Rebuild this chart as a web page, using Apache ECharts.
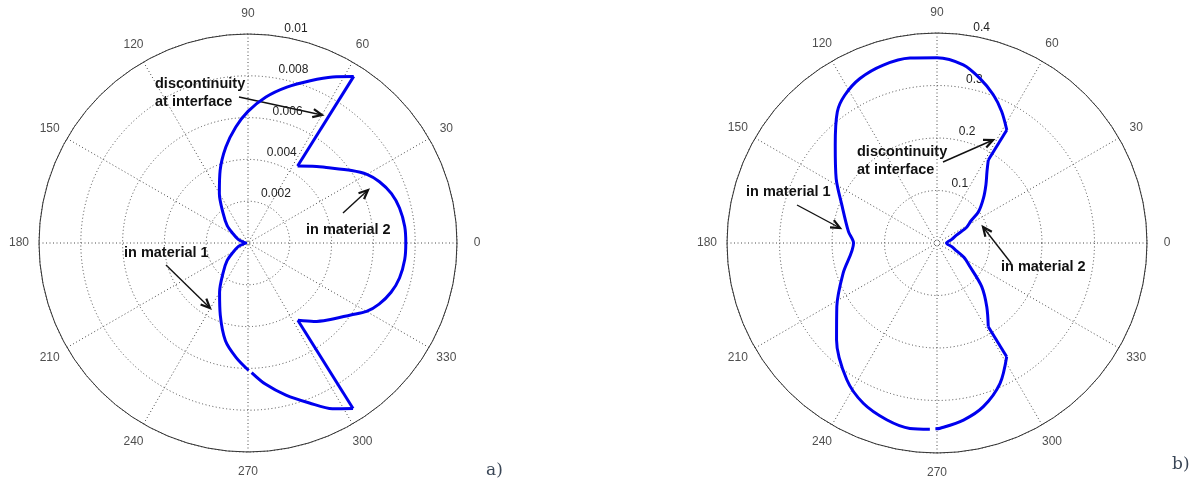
<!DOCTYPE html>
<html>
<head>
<meta charset="utf-8">
<script src="https://cdn.jsdelivr.net/npm/echarts@6/dist/echarts.min.js"></script>
<style>
html, body { margin: 0; background: #fff; }
#main { width: 1194px; height: 492px; }
</style>
</head>
<body>
<div id="main"></div>
<script>
// angle tick labels, both plots
var angleTicks = ['0', '30', '60', '90', '120', '150', '180', '210', '240', '270', '300', '330'];
var leftRadiusTicks = ['0.002', '0.004', '0.006', '0.008', '0.01'];
var rightRadiusTicks = ['0.1', '0.2', '0.3', '0.4'];

// a) angle (deg) / radius. null = small break in the trace
var leftMat1Theta = [57.6, 63, 69, 76, 83, 90, 96, 103, 111, 120, 130, 140, 148, 160, 172, 180,
  188, 200, 212, 220, 230, 240, 249, 257, 264, 270.3, 270.8, 271.6, 277, 284, 291, 297, 302.4];
var leftMat1R = [0.00944, 0.00892, 0.00832, 0.00769, 0.00704, 0.0063, 0.00558, 0.00471, 0.00372, 0.00274, 0.00185, 0.0013, 0.00085, 0.0005, 0.0002, 0.0001,
  0.0002, 0.0005, 0.00085, 0.0013, 0.00185, 0.00272, 0.0037, 0.0048, 0.0055, 0.0061, null, 0.0062, 0.0068, 0.0075, 0.0082, 0.0089, 0.00938];
var leftMat2Theta = [302.8, 310, 316, 325, 330, 335, 341, 347, 354, 360, 366, 373, 379, 385, 390, 395, 404, 410, 417.2];
var leftMat2R = [0.0044, 0.0049, 0.0053, 0.006, 0.00655, 0.00692, 0.00724, 0.00744, 0.00754, 0.00755, 0.00754, 0.00744, 0.00726, 0.00694, 0.00657, 0.00605, 0.0052, 0.0048, 0.00438];

// b)
var rightMat1Theta = [58.3, 63.8, 69.2, 75.4, 81.6, 90, 98.3, 106.8, 115.1, 121.9, 127.2,
  136.1, 147.4, 158.3, 172.7, 180, 197.9, 212.4, 224, 236.6, 245.3, 254.1, 261.7, 267.8, 268.7, 269.5, 271, 278.5, 285.8, 294.2, 301.5];
var rightMat1R = [0.253, 0.279, 0.302, 0.324, 0.343, 0.353, 0.356, 0.354, 0.346, 0.332, 0.314,
  0.269, 0.228, 0.195, 0.17, 0.159, 0.188, 0.226, 0.266, 0.312, 0.336, 0.35, 0.357, 0.355, null, 0.354, 0.353, 0.341, 0.324, 0.293, 0.254];
var rightMat2Theta = [301.5, 308, 315.7, 324.5, 332, 338, 346, 360, 374, 382, 388, 393, 397, 404, 410, 415, 418.3];
var rightMat2R = [0.187, 0.154, 0.119, 0.077, 0.058, 0.04, 0.029, 0.018, 0.029, 0.04, 0.064, 0.077, 0.099, 0.123, 0.145, 0.166, 0.186];

// annotations (pixels)
var notes = [
  { lines: ['discontinuity', 'at interface'], x: 155, y: 84, from: [239, 97], to: [322, 115] },
  { lines: ['in material 2'], x: 306, y: 230, from: [343, 213], to: [368, 190] },
  { lines: ['in material 1'], x: 124, y: 253, from: [166, 265], to: [210, 308] },
  { lines: ['discontinuity', 'at interface'], x: 857, y: 152, from: [943, 162], to: [993, 140] },
  { lines: ['in material 1'], x: 746, y: 192, from: [797, 205], to: [840, 228] },
  { lines: ['in material 2'], x: 1001, y: 267, from: [1011, 263], to: [983, 227] }
];

function pairs(rs, ts) {
  return rs.map(function (r, i) { return r === null ? ['-', ts[i]] : [r, ts[i]]; });
}

var gridColor = '#4a4a4a';
var labelFont = { fontFamily: 'Liberation Sans', fontSize: 12, color: '#222' };
var dotted = { color: gridColor, width: 1, type: [1, 2.5] };
var hidden = { axisLine: { show: false }, axisTick: { show: false }, axisLabel: { show: false }, splitLine: { show: false } };

// one plot = 3 polars: grid, radius labels along 82 deg, angle labels on a ring
function plotAxes(pi, max, step, ticks) {
  var angle = [
    { polarIndex: pi, type: 'value', min: 0, max: 360, interval: 30, startAngle: 0, clockwise: false,
      axisLine: { lineStyle: { color: '#333', width: 1 } }, axisTick: { show: false }, axisLabel: { show: false },
      splitLine: { lineStyle: dotted } },
    Object.assign({ polarIndex: pi + 1, type: 'value', min: 0, max: 360, startAngle: 82, clockwise: false }, hidden),
    Object.assign({ polarIndex: pi + 2, type: 'value', min: 0, max: 360, startAngle: 0, clockwise: false }, hidden)
  ];
  var radius = [
    { polarIndex: pi, type: 'value', min: 0, max: max, interval: step,
      axisLine: { show: false }, axisTick: { show: false }, axisLabel: { show: false },
      splitLine: { lineStyle: dotted } },
    { polarIndex: pi + 1, type: 'value', min: 0, max: max, interval: step,
      axisLine: { show: false }, axisTick: { show: false }, splitLine: { show: false },
      axisLabel: Object.assign({ align: 'left', verticalAlign: 'middle', margin: -6,
        formatter: function (v) { var i = Math.round(v / step); return i > 0 ? ticks[i - 1] : ''; } }, labelFont) },
    Object.assign({ polarIndex: pi + 2, type: 'value', min: 0, max: 1 }, hidden)
  ];
  return { angle: angle, radius: radius };
}

var a = plotAxes(0, 0.01, 0.002, leftRadiusTicks);
var b = plotAxes(3, 0.4, 0.1, rightRadiusTicks);

var graphics = [];
notes.forEach(function (n) {
  n.lines.forEach(function (t, i) {
    graphics.push({ type: 'text', style: { text: t, x: n.x, y: n.y + i * 18, font: 'bold 14.5px "Liberation Sans"', fill: '#111', verticalAlign: 'middle' } });
  });
  var ang = Math.atan2(n.to[1] - n.from[1], n.to[0] - n.from[0]), hl = 10, spread = 0.42;
  graphics.push({ type: 'polyline', shape: { points: [n.from, n.to] }, style: { stroke: '#111', lineWidth: 1.4 } });
  graphics.push({ type: 'polyline', shape: { points: [
    [n.to[0] - hl * Math.cos(ang - spread), n.to[1] - hl * Math.sin(ang - spread)],
    n.to,
    [n.to[0] - hl * Math.cos(ang + spread), n.to[1] - hl * Math.sin(ang + spread)]
  ] }, style: { stroke: '#111', lineWidth: 2.2, fill: null } });
});
graphics.push({ type: 'text', style: { text: 'a)', x: 486, y: 471, font: '17px "DejaVu Serif"', fill: '#3a4656', verticalAlign: 'middle' } });
graphics.push({ type: 'text', style: { text: 'b)', x: 1172, y: 465, font: '17px "DejaVu Serif"', fill: '#3a4656', verticalAlign: 'middle' } });

var curveStyle = { color: '#0000ee', width: 3 };
function curve(pi, data, smooth) {
  return { type: 'line', coordinateSystem: 'polar', polarIndex: pi, data: data, symbol: 'none', smooth: smooth, lineStyle: curveStyle, z: 5 };
}
function jump(pi, r1, t1, r2, t2) {
  return curve(pi, [[r1, t1], [r2, t2]], false);
}
function ringLabels(pi) {
  return { type: 'scatter', coordinateSystem: 'polar', polarIndex: pi, symbolSize: 1, itemStyle: { color: 'transparent' },
    data: angleTicks.map(function (t, i) { return [1, i * 30]; }),
    label: Object.assign({ show: true, position: 'inside', formatter: function (p) { return angleTicks[p.dataIndex]; } }, labelFont) };
}

var l1 = leftMat1R.length - 1, l2 = leftMat2R.length - 1;
var r1 = rightMat1R.length - 1, r2 = rightMat2R.length - 1;

var option = {
  animation: false,
  backgroundColor: '#fff',
  polar: [
    { center: [248, 243], radius: 209 },
    { center: [248, 243], radius: [8.5, 217.5] },
    { center: [248, 243], radius: 229 },
    { center: [937, 243], radius: 210 },
    { center: [937, 243], radius: [8.5, 218.5] },
    { center: [937, 243], radius: 230 }
  ],
  angleAxis: a.angle.concat(b.angle),
  radiusAxis: a.radius.concat(b.radius),
  series: [
    curve(0, pairs(leftMat1R, leftMat1Theta), 0.3),
    curve(0, pairs(leftMat2R, leftMat2Theta), 0.3),
    jump(0, leftMat1R[l1], leftMat1Theta[l1], leftMat2R[0], leftMat2Theta[0]),
    jump(0, leftMat2R[l2], leftMat2Theta[l2], leftMat1R[0], leftMat1Theta[0]),
    ringLabels(2),
    curve(3, pairs(rightMat1R, rightMat1Theta), 0.3),
    curve(3, pairs(rightMat2R, rightMat2Theta), 0.3),
    jump(3, rightMat1R[r1], rightMat1Theta[r1], rightMat2R[0], rightMat2Theta[0]),
    jump(3, rightMat2R[r2], rightMat2Theta[r2], rightMat1R[0], rightMat1Theta[0]),
    ringLabels(5)
  ],
  graphic: graphics
};

var chart = echarts.init(document.getElementById('main'));
chart.setOption(option);
</script>
</body>
</html>
